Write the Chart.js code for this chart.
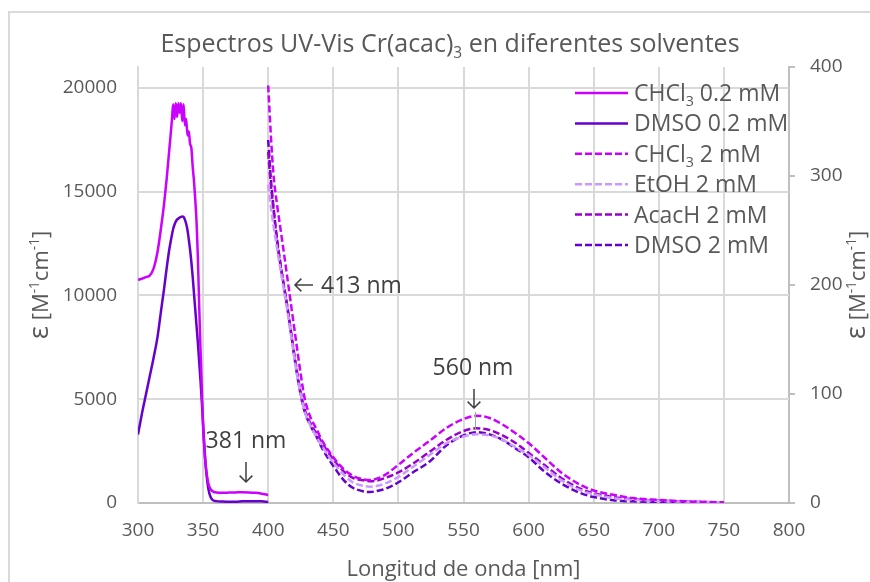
<!DOCTYPE html>
<html><head><meta charset="utf-8">
<script src="https://cdn.jsdelivr.net/npm/chart.js@4/dist/chart.umd.min.js"></script>
<style>html,body{margin:0;padding:0;background:#fff}#wrap{width:870px;height:582px;position:relative}</style>
</head><body><div id="wrap"><canvas id="c"></canvas></div>
<script>
// ---------- texts ----------
const chartTitle = 'Espectros UV-Vis Cr(acac)₃ en diferentes solventes';
const xAxisTitle = 'Longitud de onda [nm]';
const yAxisTitle = 'ε [M⁻¹cm⁻¹]';
const seriesLabels = ['CHCl₃ 0.2 mM', 'DMSO 0.2 mM', 'CHCl₃ 2 mM', 'EtOH 2 mM', 'AcacH 2 mM', 'DMSO 2 mM'];
const annotations = ['413 nm', '560 nm', '381 nm'];

// ---------- axis ranges / ticks ----------
const xMin = 300, xMax = 800, xStep = 50;
const yLeftMin = 0, yLeftMax = 21000;
const yLeftTicks = [0, 5000, 10000, 15000, 20000];
const yRightMin = 0, yRightMax = 400;
const yRightTicks = [0, 100, 200, 300, 400];

// ---------- UV region (left axis, 0.2 mM) ----------
const wlUV = [300,303,306,309,312,315,318,320,322,324,326,327,328,329,330,331,332,333,334,335,336,337,338,339,340,341,342,343,344,345,346,347,348,349,350,351,352,354,356,358,360,365,370,375,380,385,390,395,400];
const epsCHCl3_02 = [10750,10800,10880,10950,11300,12100,13400,14400,15600,17000,18400,19200,18500,19250,18600,19250,18800,19250,18400,19200,18200,18500,17700,17900,17300,17100,16200,15500,14600,13500,11800,9500,7400,5500,3700,2600,1800,950,650,540,510,490,500,510,520,510,490,450,390];
const epsDMSO_02 = [3300,4300,5200,6100,7000,8000,9400,10300,11300,12200,12900,13200,13400,13550,13650,13700,13750,13780,13800,13780,13650,13450,13150,12700,12200,11600,10900,10100,9300,8500,7700,6800,5900,4900,3800,2700,1800,700,250,120,90,70,60,60,80,90,90,80,50];

// ---------- Vis region (right axis, 2 mM) ----------
const wlVis = [400,402,404,407,410,412,415,418,421,425,428,432,437,442,450,458,465,472,478,485,490,500,511,524,537,550,560,570,580,590,600,612,625,640,650,665,680,700,720,750];
const epsCHCl3_2 = [383,338,302,272,247,230,204,178,152,118,96,80,68,56,42,31,25,22,21,23,26,35,45.6,57,69,77,80,78,72,64,55,42,28,16.5,11.5,7.5,4.5,2.8,1.6,0.6];
const epsEtOH_2  = [292,272,255,232,210,196,174,150,126,99,84,72,61,51,37,26,19,16,15,16,18,24,33,44,55,61,63,62,58,51,44,33,21,11.5,8,4.5,3,2,1.2,0.5];
const epsAcacH_2 = [322,292,270,238,214,199,177,153,129,101,86,74,64,54,40,29,23,21,20,21,23,28,36,47,58,66,68.5,67,62,55,46,35,23,13,9,5.5,3.5,2.2,1.3,0.5];
const epsDMSO_2  = [333,298,272,240,215,200,178,152,127,99,84,72,61,49,34,21,14,11,10,11.5,13,19,28,38,53,62,65,63,58,50,42,29,18,9,5.5,2.5,1.5,1,0.6,0.3];

// ---------- styles ----------
const FONT = "'Open Sans', sans-serif";
const TXT = '#595959';
const ANN = '#404040';
const GRID = '#d9d9d9';
const AXIS = '#bfbfbf';
const colors = ['#CC00FF', '#6600CC', '#CC00FF', '#CC99FF', '#9900CC', '#6600CC'];
const DASH = [7, 3];

function pts(xs, ys) { return xs.map((x, i) => ({x: x, y: ys[i]})); }

const datasets = [
  {label: seriesLabels[0], data: pts(wlUV, epsCHCl3_02), yAxisID: 'y', borderColor: colors[0], borderDash: []},
  {label: seriesLabels[1], data: pts(wlUV, epsDMSO_02), yAxisID: 'y', borderColor: colors[1], borderDash: []},
  {label: seriesLabels[2], data: pts(wlVis, epsCHCl3_2), yAxisID: 'y2', borderColor: colors[2], borderDash: DASH},
  {label: seriesLabels[3], data: pts(wlVis, epsEtOH_2), yAxisID: 'y2', borderColor: colors[3], borderDash: DASH},
  {label: seriesLabels[4], data: pts(wlVis, epsAcacH_2), yAxisID: 'y2', borderColor: colors[4], borderDash: DASH},
  {label: seriesLabels[5], data: pts(wlVis, epsDMSO_2), yAxisID: 'y2', borderColor: colors[5], borderDash: DASH}
].map(d => Object.assign(d, {borderWidth: 2.5, pointRadius: 0, fill: false, cubicInterpolationMode: 'monotone'}));

// ---------- rich text (sub/superscripts) ----------
const SUB = '₀₁₂₃₄₅₆₇₈₉', SUP = {'⁻':'-','¹':'1','²':'2','³':'3','⁰':'0'};
function segments(str) {
  const out = [];
  for (const ch of str) {
    let type = 'n', c = ch;
    if (SUB.includes(ch)) { type = 'sub'; c = String(SUB.indexOf(ch)); }
    else if (SUP[ch] !== undefined) { type = 'sup'; c = SUP[ch]; }
    else if (ch === 'ε') { type = 'eps'; }
    const last = out[out.length - 1];
    if (last && last.type === type) last.t += c; else out.push({type: type, t: c});
  }
  return out;
}
function segSize(type, size) { return type === 'n' ? size : type === 'eps' ? size * 1.25 : size * 0.62; }
function segRise(type, size) { return type === 'sub' ? size * 0.22 : type === 'sup' ? -size * 0.4 : 0; }
function richWidth(ctx, str, size) {
  let w = 0;
  for (const s of segments(str)) { ctx.font = segSize(s.type, size) + 'px ' + FONT; w += ctx.measureText(s.t).width; }
  return w;
}
function drawRich(ctx, str, x, y, size, align, color) {
  const w = richWidth(ctx, str, size);
  let cx = align === 'center' ? x - w / 2 : align === 'right' ? x - w : x;
  ctx.fillStyle = color; ctx.textBaseline = 'alphabetic'; ctx.textAlign = 'left';
  for (const s of segments(str)) {
    ctx.font = segSize(s.type, size) + 'px ' + FONT;
    ctx.fillText(s.t, cx, y + segRise(s.type, size));
    cx += ctx.measureText(s.t).width;
  }
}
function arrow(ctx, x1, y1, x2, y2) {
  const a = Math.atan2(y2 - y1, x2 - x1), h = 9;
  ctx.beginPath();
  ctx.moveTo(x1, y1); ctx.lineTo(x2, y2);
  ctx.moveTo(x2 - h * Math.cos(a - Math.PI / 4), y2 - h * Math.sin(a - Math.PI / 4));
  ctx.lineTo(x2, y2);
  ctx.lineTo(x2 - h * Math.cos(a + Math.PI / 4), y2 - h * Math.sin(a + Math.PI / 4));
  ctx.stroke();
}

const decor = {
  id: 'decor',
  beforeDraw(chart) {
    const ctx = chart.ctx;
    ctx.save();
    ctx.fillStyle = '#fff'; ctx.fillRect(0, 0, chart.width, chart.height);
    ctx.strokeStyle = GRID; ctx.lineWidth = 2;
    ctx.strokeRect(9, 12, chart.width + 20, chart.height + 20);
    ctx.restore();
  },
  beforeDatasetsDraw(chart) {
    // horizontal gridlines at the left-axis ticks, placed by the library's y scale
    const ctx = chart.ctx, ca = chart.chartArea, ys = chart.scales.y;
    ctx.save();
    ctx.strokeStyle = GRID; ctx.lineWidth = 2;
    yLeftTicks.forEach(v => {
      if (v === 0) return;
      const py = Math.round(ys.getPixelForValue(v));
      ctx.beginPath(); ctx.moveTo(ca.left, py); ctx.lineTo(ca.right, py); ctx.stroke();
    });
    ctx.restore();
  },
  afterDraw(chart) {
    const ctx = chart.ctx, ca = chart.chartArea;
    ctx.save();
    drawRich(ctx, chartTitle, 450, 52, 25, 'center', TXT);
    drawRich(ctx, xAxisTitle, (ca.left + ca.right) / 2, 576, 22, 'center', TXT);
    const cy = (ca.top + ca.bottom) / 2;
    [[40, cy], [857, cy]].forEach(p => {
      ctx.save(); ctx.translate(p[0], p[1]); ctx.rotate(-Math.PI / 2);
      drawRich(ctx, yAxisTitle, 0, 8, 22, 'center', TXT);
      ctx.restore();
    });
    const lx0 = 575, lx1 = 628, ltx = 634, ly0 = 93, lstep = 30.4;
    chart.data.datasets.forEach((d, i) => {
      const y = ly0 + i * lstep;
      ctx.strokeStyle = d.borderColor; ctx.lineWidth = 2.5; ctx.setLineDash(d.borderDash);
      ctx.beginPath(); ctx.moveTo(lx0, y); ctx.lineTo(lx1, y); ctx.stroke();
      ctx.setLineDash([]);
      drawRich(ctx, d.label, ltx, y + 8, 23, 'left', TXT);
    });
    ctx.strokeStyle = ANN; ctx.lineWidth = 1.5; ctx.setLineDash([]);
    arrow(ctx, 313, 285, 295, 285);
    drawRich(ctx, annotations[0], 321, 293, 23, 'left', ANN);
    drawRich(ctx, annotations[1], 473, 375, 23, 'center', ANN);
    arrow(ctx, 474, 389, 474, 408);
    ctx.strokeStyle = '#a6a6a6'; ctx.lineWidth = 1;
    ctx.beginPath(); ctx.moveTo(475.5, 412); ctx.lineTo(475.5, 430); ctx.stroke();
    ctx.strokeStyle = ANN; ctx.lineWidth = 1.5;
    drawRich(ctx, annotations[2], 246, 448, 23, 'center', ANN);
    arrow(ctx, 246, 462, 246, 482);
    ctx.restore();
  }
};

const tickFont = {family: FONT, size: 19};
const plainLabel = v => String(v);
new Chart(document.getElementById('c'), {
  type: 'line',
  data: {datasets: datasets},
  plugins: [decor],
  options: {
    responsive: true, maintainAspectRatio: false, animation: false, devicePixelRatio: 1,
    layout: {padding: {top: 67, left: 0, right: 0, bottom: 0}},
    plugins: {legend: {display: false}, title: {display: false}, tooltip: {enabled: false}},
    scales: {
      x: {
        type: 'linear', min: xMin, max: xMax,
        ticks: {stepSize: xStep, color: TXT, font: tickFont, padding: 16, maxRotation: 0, callback: plainLabel},
        grid: {color: GRID, lineWidth: 2, drawTicks: false},
        border: {color: AXIS, width: 2},
        afterFit(s) { s.height = 79; }
      },
      y: {
        position: 'left', min: yLeftMin, max: yLeftMax,
        afterBuildTicks(s) { s.ticks = yLeftTicks.map(v => ({value: v})); },
        ticks: {color: TXT, font: tickFont, padding: 21, callback: plainLabel},
        grid: {display: false, drawTicks: false},
        border: {display: true, color: GRID, width: 2},
        afterFit(s) { s.width = 138; }
      },
      y2: {
        position: 'right', min: yRightMin, max: yRightMax,
        afterBuildTicks(s) { s.ticks = yRightTicks.map(v => ({value: v})); },
        ticks: {color: TXT, font: tickFont, padding: 15, callback: plainLabel},
        grid: {drawOnChartArea: false, drawTicks: true, tickLength: 6, color: AXIS, lineWidth: 2},
        border: {color: AXIS, width: 2},
        afterFit(s) { s.width = 81; }
      }
    }
  }
});
</script></body></html>
